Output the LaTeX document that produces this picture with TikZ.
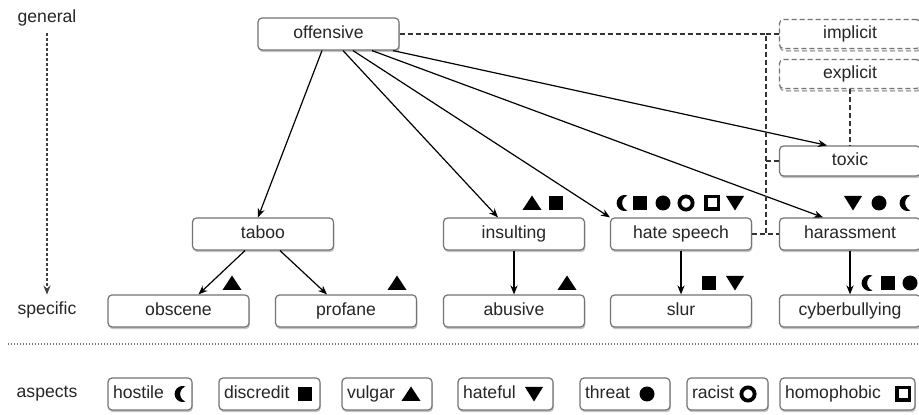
\documentclass[tikz,border=0pt]{standalone}
\usepackage{fontspec}
\setmainfont{Liberation Sans}
\usetikzlibrary{arrows.meta, shadows}

\begin{document}
\begin{tikzpicture}[
        ->,
        >={Stealth[length=4.5pt, width=3.6pt]},
        x=0.5pt,
        y=-0.5pt,
        line width=0.6pt,
        every node/.style={font=\fontsize{8.8}{10}\selectfont, text=black!85},
        box/.style={draw=black!55, line width=0.6pt, fill=white, rounded corners=2pt,
            minimum width=70.5pt, minimum height=16pt, inner sep=0pt,
            text height=6.4pt, text depth=1.9pt},
        term/.style={box, drop shadow={shadow xshift=0.4pt, shadow yshift=-1.1pt, opacity=0.45}},
        vague/.style={box, minimum height=14.5pt, dash pattern=on 2.5pt off 1.5pt,
            drop shadow={fill=none, draw=black!40, line width=0.9pt, shadow xshift=0.4pt,
                shadow yshift=-1.1pt, opacity=0.8}},
        aspect/.style={term, minimum width=0pt, text width=#1, align=left, inner xsep=2.5pt},
        conn/.style={-, black!80, dash pattern=on 2.5pt off 1.5pt},
        axis/.style={black!75, dash pattern=on 1.5pt off 1pt},
        sep/.style={-, black!55, dash pattern=on 0.5pt off 1pt},
        moon/.pic={\fill[-] (5.35,-7.51) arc[start angle=-69.9, end angle=-290.1, radius=8]
            arc[start angle=110.1, end angle=249.9, radius=8] -- cycle;},
        sqr/.pic={\fill[-] (-7,-7) rectangle (7,7);},
        dot/.pic={\fill[-] (0,0) circle[radius=7.5];},
        ring/.pic={\draw[-, line width=1.9pt] (0,0) circle[radius=6.6];},
        opensq/.pic={\draw[-, line width=1.9pt] (-6.4,-6.4) rectangle (6.4,6.4);},
        uptri/.pic={\fill[-] (-9.5,7) -- (9.5,7) -- (0,-7.5) -- cycle;},
        downtri/.pic={\fill[-] (-9,-7) -- (9,-7) -- (0,7.5) -- cycle;}
    ]
    \useasboundingbox (0,0) rectangle (919,415);

    \node (general) at (47,18) {general};
    \node (specific) at (47,310) {specific};
    \node (aspects) at (47,394) {aspects};
    \draw[axis] (general) -- (specific);
    \draw[sep] (8,344) -- (919,344);

    \node[term] (offensive) at (328.5,34) {offensive};
    \node[vague] (implicit) at (850,34) {implicit};
    \node[vague] (explicit) at (850,74) {explicit};
    \node[term, minimum height=15pt] (toxic) at (850,161) {toxic};

    \node[term] (taboo) at (263,234) {taboo};
    \node[term] (insulting) at (514,234) {insulting};
    \node[term] (hatespeech) at (681,234) {hate speech};
    \node[term] (harassment) at (850,234) {harassment};

    \node[term] (obscene) at (178.5,311) {obscene};
    \node[term] (profane) at (346,311) {profane};
    \node[term] (abusive) at (514,311) {abusive};
    \node[term] (slur) at (681,311) {slur};
    \node[term] (cyberbullying) at (850,311) {cyberbullying};

    \draw ([xshift=-3.25pt]offensive.south) -- ([xshift=-2.5pt]taboo.north);
    \draw ([xshift=7.25pt]offensive.south) -- ([xshift=-8pt]insulting.north);
    \draw ([xshift=12.25pt]offensive.south) -- (hatespeech.north west);
    \draw ([xshift=21.75pt]offensive.south) -- ([xshift=-13.5pt]harassment.north);
    \draw ([xshift=32.25pt]offensive.south) -- ([xshift=-11.5pt]toxic.north);

    \draw ([xshift=-9pt]taboo.south) -- ([xshift=10pt]obscene.north);
    \draw ([xshift=8.5pt]taboo.south) -- ([xshift=-9.5pt]profane.north);
    \draw (insulting) edge (abusive);
    \draw (hatespeech) edge (slur);
    \draw (harassment) edge (cyberbullying);

    \coordinate (fork) at (766,34);
    \draw[conn] (offensive) -- (fork) -- (fork |- hatespeech.east);
    \draw[conn] (fork) -- (implicit);
    \draw[conn] (fork |- toxic.west) -- (toxic);
    \draw[conn] (hatespeech) -- (harassment);
    \draw[conn] (explicit) -- (toxic);

    \pic at (532,203) {uptri};
    \pic at (556,203) {sqr};
    \pic at (622,203) {moon};
    \pic at (640,203) {sqr};
    \pic at (663,203) {dot};
    \pic at (686,203) {ring};
    \pic at (712,203) {opensq};
    \pic at (735,203) {downtri};
    \pic at (853,203) {downtri};
    \pic at (879,203) {dot};
    \pic at (905,203) {moon};

    \pic at (232,283) {uptri};
    \pic at (397,283) {uptri};
    \pic at (567,283) {uptri};
    \pic at (709,283) {sqr};
    \pic at (735,283) {downtri};
    \pic at (867,283) {moon};
    \pic at (888,283) {sqr};
    \pic at (910,283) {dot};

    \node[aspect=37pt] (hostile) at (150,394) {hostile};
    \node[aspect=45.5pt] (discredit) at (269.5,394) {discredit};
    \node[aspect=40pt] (vulgar) at (387,394) {vulgar};
    \node[aspect=42.5pt] (hateful) at (505.5,394) {hateful};
    \node[aspect=40pt] (threat) at (625,394) {threat};
    \node[aspect=35.5pt] (racist) at (727.5,394) {racist};
    \node[aspect=62.5pt] (homophobic) at (847.5,394) {homophobic};
    \pic at (180,394) {moon};
    \pic at (305,394) {sqr};
    \pic at (411,394) {uptri};
    \pic at (534,394) {downtri};
    \pic at (647,394) {dot};
    \pic at (748,394) {ring};
    \pic at (903,394) {opensq};
\end{tikzpicture}
\end{document}
